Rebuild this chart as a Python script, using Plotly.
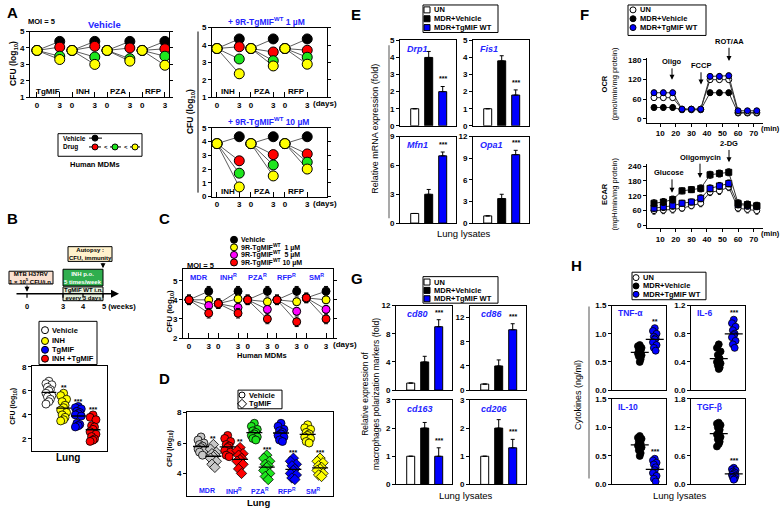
import plotly.graph_objects as go
import numpy as np

W, H = 780, 513
FONT = "Liberation Sans"
BLUE = "#0000ff"
TBLUE = "#2424ff"
RED = "#ff0000"
GREEN = "#1ee61e"
YELLOW = "#ffff00"
MAG = "#ff00ff"
GREY = "#c8c8c8"

# ======================= DATA =======================
# Panel A (Human MDMs, CFU log10, day 0 -> day 3)
A_veh_groups = ["TgMIF", "INH", "PZA", "RFP"]
A_veh_day0 = [3.85, 3.85, 3.85, 3.85]
A_veh_vehicle = [4.4, 4.4, 4.4, 4.4]
A_veh_low = [4.05, 4.1, 4.0, 3.95]
A_veh_mid = [3.5, 3.45, 3.35, 3.5]
A_veh_high = [3.3, 3.0, 3.2, 2.95]
A_veh_err = [0.15, 0.15, 0.15, 0.2]

A_1uM_groups = ["INH", "PZA", "RFP"]
A_1uM_day0 = [3.8, 3.8, 3.8]
A_1uM_vehicle = [4.35, 4.35, 4.35]
A_1uM_low = [3.9, 3.6, 3.7]
A_1uM_mid = [3.2, 3.1, 3.3]
A_1uM_high = [2.35, 2.8, 2.9]
A_1uM_err = [0.15, 0.2, 0.2, 0.25]

A_10uM_groups = ["INH", "PZA", "RFP"]
A_10uM_day0 = [3.85, 3.85, 3.85]
A_10uM_vehicle = [4.35, 4.35, 4.35]
A_10uM_low = [2.6, 3.05, 3.1]
A_10uM_mid = [1.7, 2.3, 2.5]
A_10uM_high = [0.7, 1.5, 2.0]
A_10uM_err = [0.2, 0.3, 0.3, 0.3]

# Panel B (lung CFU)
B_groups = ["Vehicle", "INH", "TgMIF", "INH +TgMIF"]
B_vehicle = [6.8, 6.6, 6.5, 6.3, 6.1, 6.0, 5.8, 5.6, 5.5, 5.3, 5.1, 4.9]
B_inh = [5.8, 5.6, 5.3, 5.1, 4.8, 4.6, 4.4, 4.2, 4.0, 3.8, 3.6, 3.5]
B_tgmif = [4.7, 4.6, 4.5, 4.3, 4.2, 4.1, 4.0, 3.9, 3.3, 3.2, 3.1, 3.0]
B_combo = [4.0, 3.8, 3.6, 3.1, 3.0, 2.8, 2.6, 2.4, 2.2, 2.0, 1.9, 1.8]
B_stars = ["", "**", "***", "***"]
B_weeks = ["0", "3", "4", "5 (weeks)"]

# Panel C (resistant strains, Human MDMs)
C_groups = ["MDR", "INH<sup>R</sup>", "PZA<sup>R</sup>", "RFP<sup>R</sup>", "SM<sup>R</sup>"]
C_day0 = [4.0, 3.8, 4.0, 4.0, 4.1]
C_vehicle = [4.45, 4.45, 4.45, 4.45, 4.45]
C_1uM = [4.0, 4.05, 3.9, 3.9, 4.0]
C_5uM = [3.7, 3.6, 3.5, 3.4, 3.5]
C_10uM = [3.3, 3.3, 3.0, 2.85, 3.0]
C_err = [0.25, 0.2, 0.2, 0.25]

# Panel D (lung CFU, resistant strains)
D_groups = ["MDR", "INH<sup>R</sup>", "PZA<sup>R</sup>", "RFP<sup>R</sup>", "SM<sup>R</sup>"]
D_vehicle = [
    [6.4, 6.2, 6.0, 5.9, 5.8, 5.7, 5.6, 5.5, 5.4, 5.2],
    [6.5, 6.3, 6.1, 5.9, 5.8, 5.7, 5.5, 5.4, 5.2, 5.1],
    [7.3, 7.1, 6.9, 6.8, 6.7, 6.6, 6.5, 6.4, 6.3, 6.2],
    [7.3, 7.1, 6.9, 6.8, 6.7, 6.6, 6.5, 6.4, 6.2, 6.1],
    [7.2, 7.0, 6.9, 6.7, 6.6, 6.5, 6.4, 6.3, 6.1, 6.0],
]
D_tgmif = [
    [5.9, 5.6, 5.4, 5.3, 5.2, 5.1, 5.0, 4.8, 4.6, 4.4],
    [5.7, 5.5, 5.3, 5.2, 5.0, 4.9, 4.8, 4.6, 4.3, 4.0],
    [5.2, 5.0, 4.8, 4.6, 4.5, 4.4, 4.2, 4.0, 3.8, 3.6],
    [5.0, 4.8, 4.6, 4.5, 4.3, 4.2, 4.0, 3.9, 3.7, 3.6],
    [5.0, 4.8, 4.7, 4.5, 4.4, 4.3, 4.2, 4.0, 3.9, 3.8],
]
D_stars = ["**", "**", "***", "***", "***"]

# Panel E (mRNA fold)
E_genes = ["Drp1", "Fis1", "Mfn1", "Opa1"]
E_un = [1, 1, 1, 1]
E_veh = [4.0, 3.8, 3.0, 3.4]
E_veh_err = [0.35, 0.3, 0.5, 0.6]
E_tg = [2.0, 1.8, 7.0, 9.5]
E_tg_err = [0.3, 0.3, 0.4, 0.6]
E_ymax = [5, 5, 9, 12]
E_dtick = [1, 1, 3, 3]

# Panel F (Seahorse)
F_time = [6, 12, 18, 24, 30, 36, 42, 48, 54, 60, 66, 72]
OCR_un = [65, 65, 65, 30, 30, 30, 120, 120, 120, 20, 20, 20]
OCR_veh = [35, 35, 35, 28, 28, 28, 80, 80, 80, 18, 18, 18]
OCR_tg = [80, 80, 80, 30, 30, 30, 130, 130, 132, 25, 25, 25]
OCR_err = [8, 8, 8, 6, 6, 6, 8, 8, 8, 6, 6, 6]
ECAR_un = [60, 62, 65, 70, 80, 90, 135, 140, 155, 70, 65, 60]
ECAR_veh = [90, 95, 105, 140, 145, 150, 205, 210, 215, 90, 85, 80]
ECAR_tg = [70, 75, 80, 90, 95, 110, 150, 160, 170, 85, 80, 78]
ECAR_err = [14, 14, 14, 12, 12, 14, 14, 14, 14, 14, 14, 14]

# Panel G (polarization markers)
G_genes = ["cd80", "cd86", "cd163", "cd206"]
G_un = [1, 1, 1, 1]
G_veh = [4.0, 4.0, 2.0, 2.0]
G_veh_err = [0.8, 1.0, 0.2, 0.3]
G_tg = [9.0, 10.0, 1.0, 1.3]
G_tg_err = [1.0, 1.0, 0.3, 0.3]
G_ymax = [12, 14, 3, 3]
G_dtick = [4, 4, 1, 1]

# Panel H (cytokines ng/ml)
H_names = ["TNF-α", "IL-6", "IL-10", "TGF-β"]
H_veh = [
    [0.8, 0.78, 0.75, 0.72, 0.7, 0.68, 0.65, 0.62, 0.6, 0.55, 0.5],
    [0.65, 0.6, 0.55, 0.5, 0.45, 0.42, 0.4, 0.38, 0.35, 0.32, 0.3],
    [0.85, 0.82, 0.8, 0.75, 0.72, 0.7, 0.68, 0.65, 0.6, 0.55, 0.5],
    [1.3, 1.28, 1.25, 1.2, 1.15, 1.1, 1.05, 1.0, 0.95, 0.9, 0.85, 0.8],
]
H_tg = [
    [1.1, 1.05, 1.0, 0.95, 0.92, 0.9, 0.85, 0.8, 0.75, 0.7],
    [1.0, 0.95, 0.9, 0.85, 0.8, 0.78, 0.75, 0.7, 0.65, 0.6],
    [0.45, 0.42, 0.38, 0.35, 0.3, 0.25, 0.2, 0.15, 0.1, 0.05],
    [0.35, 0.32, 0.3, 0.27, 0.25, 0.22, 0.2, 0.18, 0.15, 0.12, 0.1],
]
H_ymax = [1.5, 1.2, 1.5, 1.8]
H_dtick = [0.5, 0.4, 0.5, 0.6]
H_stars = ["**", "***", "***", "***"]

# ======================= HELPERS =======================
fig = go.Figure()
LAY = {}
cnt = [0]
anns = []
shapes = []


def axes(box, xr, yr, xextra=None, yextra=None, mirror=True):
    cnt[0] += 1
    n = cnt[0]
    s = "" if n == 1 else str(n)
    x0, x1, y0, y1 = box
    base = dict(showgrid=False, zeroline=False, showline=True, linecolor="black",
                linewidth=1, mirror=mirror, ticks="outside", ticklen=3, tickwidth=1,
                tickcolor="black", fixedrange=True,
                tickfont=dict(family=FONT, size=8, color="black", weight="bold"))
    xa = dict(base, domain=[x0 / W, x1 / W], range=xr, anchor="y" + s)
    ya = dict(base, domain=[1 - y1 / H, 1 - y0 / H], range=yr, anchor="x" + s)
    if xextra:
        xa.update(xextra)
    if yextra:
        ya.update(yextra)
    LAY["xaxis" + s] = xa
    LAY["yaxis" + s] = ya
    return "x" + s, "y" + s


OX, OY = axes((0, W, 0, H), [0, W], [H, 0],
              xextra=dict(visible=False), yextra=dict(visible=False))


def text(x, y, t, size=9, color="black", xanchor="center", yanchor="middle",
         angle=0, bold=True, xref=None, yref=None):
    anns.append(dict(x=x, y=y, xref=xref or OX, yref=yref or OY,
                     text=("<b>%s</b>" % t) if bold else t, showarrow=False,
                     font=dict(family=FONT, size=size, color=color),
                     xanchor=xanchor, yanchor=yanchor, textangle=angle))


def rect(x0, y0, x1, y1, fill="rgba(0,0,0,0)", color="black", width=1):
    shapes.append(dict(type="rect", xref=OX, yref=OY, x0=x0, y0=y0, x1=x1, y1=y1,
                       fillcolor=fill, line=dict(color=color, width=width), layer="above"))


def seg(x0, y0, x1, y1, color="black", width=1, xref=None, yref=None):
    shapes.append(dict(type="line", xref=xref or OX, yref=yref or OY, x0=x0, y0=y0,
                       x1=x1, y1=y1, line=dict(color=color, width=width)))


def arrow(x0, y0, x1, y1, width=1):
    anns.append(dict(x=x1, y=y1, ax=x0, ay=y0, xref=OX, yref=OY, axref=OX, ayref=OY,
                     showarrow=True, arrowhead=2, arrowsize=1, arrowwidth=width,
                     arrowcolor="black", text=""))


def leg_marker(x, y, color, symbol="circle", size=7, line_from=None):
    if line_from:
        fig.add_trace(go.Scatter(x=list(line_from), y=[y, y], mode="lines",
                                 line=dict(color="black", width=1),
                                 xaxis=OX, yaxis=OY, hoverinfo="skip"))
    fig.add_trace(go.Scatter(x=[x], y=[y], mode="markers",
                             marker=dict(size=size, color=color, symbol=symbol,
                                         line=dict(color="black", width=1)),
                             xaxis=OX, yaxis=OY, hoverinfo="skip"))


def jitter(center, vals, spread):
    order = np.argsort(vals)[::-1]
    pattern = [0, -1, 1, -0.5, 0.5]
    xs = np.empty(len(vals))
    for rank, idx in enumerate(order):
        xs[idx] = center + pattern[rank % 5] * spread
    return xs


def cloud(xa, ya, center, vals, color, symbol="circle", size=8, spread=0.2, half=0.45):
    xs = jitter(center, vals, spread)
    fig.add_trace(go.Scatter(x=xs, y=vals, mode="markers",
                             marker=dict(size=size, color=color, symbol=symbol,
                                         line=dict(color="black", width=0.8)),
                             xaxis=xa, yaxis=ya, hoverinfo="skip"))
    m = float(np.mean(vals))
    seg(center - half, m, center + half, m, "black", 1.3, xref=xa, yref=ya)


def cfu_panel(xa, ya, spacing, day0, series, colors, errs, msize):
    ng = len(day0)
    lx, ly = [], []
    for g in range(ng):
        for s in series:
            lx += [g * spacing, g * spacing + 3, None]
            ly += [day0[g], s[g], None]
    fig.add_trace(go.Scatter(x=lx, y=ly, mode="lines", line=dict(color="#333", width=0.8),
                             xaxis=xa, yaxis=ya, hoverinfo="skip"))
    for s, c, e in zip(series, colors, errs):
        xs, ys = [], []
        for g in range(ng):
            xs += [g * spacing, g * spacing + 3]
            ys += [day0[g], s[g]]
        fig.add_trace(go.Scatter(x=xs, y=ys, mode="markers",
                                 marker=dict(size=msize, color=c, line=dict(color="black", width=1)),
                                 error_y=dict(type="data", array=[e] * len(xs), color="black",
                                              thickness=1, width=2),
                                 xaxis=xa, yaxis=ya, hoverinfo="skip"))


def day_ticks(ng, spacing):
    tv, tt = [], []
    for g in range(ng):
        tv += [g * spacing, g * spacing + 3]
        tt += ["0", "3"]
    return dict(tickvals=tv, ticktext=tt, ticks="inside", ticklen=5, mirror=True)


def bars(xa, ya, un, veh, vehe, tg, tge):
    fig.add_trace(go.Bar(x=[0, 1, 2], y=[un, veh, tg], width=0.57,
                         marker=dict(color=["white", "black", BLUE],
                                     line=dict(color="black", width=1)),
                         error_y=dict(type="data", symmetric=False, array=[0, vehe, tge],
                                      arrayminus=[0, 0, 0], color="black", thickness=1, width=2),
                         xaxis=xa, yaxis=ya, hoverinfo="skip"))


NOX = dict(showticklabels=False, ticks="")

# ======================= PANEL A =======================
text(5, 9, "A", 15, xanchor="left")
text(26, 18, "MOI = 5", 7.5, xanchor="left")
text(104, 21, "Vehicle", 9.5, TBLUE)
sp = 4.62
xa, ya = axes((30, 169, 28, 95), [-0.92, 17.4], [1, 5],
              xextra=day_ticks(4, sp), yextra=dict(dtick=1, mirror="ticks"))
cfu_panel(xa, ya, sp, A_veh_day0, [A_veh_vehicle, A_veh_low, A_veh_mid, A_veh_high],
          ["black", RED, GREEN, YELLOW], A_veh_err, 10)
for g, name in enumerate(A_veh_groups):
    text(g * sp + 1.5, 1.38, name, 8, xref=xa, yref=ya)
text(14, 61, "CFU (log<sub>10</sub>)", 8.5, angle=-90)

sp = 4.57
text(266, 18, "+ 9R-TgMIF<sup>WT</sup> 1 µM", 8.5, TBLUE)
xa, ya = axes((212, 327, 24, 95), [-0.67, 14.8], [1, 5],
              xextra=day_ticks(3, sp), yextra=dict(dtick=1, mirror="ticks"))
cfu_panel(xa, ya, sp, A_1uM_day0, [A_1uM_vehicle, A_1uM_low, A_1uM_mid, A_1uM_high],
          ["black", RED, GREEN, YELLOW], A_1uM_err, 10)
for g, name in enumerate(A_1uM_groups):
    text(g * sp + 1.5, 1.35, name, 8, xref=xa, yref=ya)
text(311, 101, "(days)", 8, xanchor="left")

text(268, 120, "+ 9R-TgMIF<sup>WT</sup> 10 µM", 8.5, TBLUE)
xa, ya = axes((212, 327, 126, 196), [-0.67, 14.8], [0, 5],
              xextra=day_ticks(3, sp), yextra=dict(dtick=1, mirror="ticks"))
cfu_panel(xa, ya, sp, A_10uM_day0, [A_10uM_vehicle, A_10uM_low, A_10uM_mid, A_10uM_high],
          ["black", RED, GREEN, YELLOW], A_10uM_err, 10)
for g, name in enumerate(A_10uM_groups):
    text(g * sp + 1.5, 0.38, name, 8, xref=xa, yref=ya)
text(311, 203, "(days)", 8, xanchor="left")
text(190, 110, "CFU (log<sub>10</sub>)", 8.5, angle=-90)
seg(198, 28, 198, 192, "black", 1)

# A legend
rect(58, 132, 142, 155)
text(61, 136.5, "Vehicle", 6.5, xanchor="left")
text(61, 145.5, "Drug", 6.5, xanchor="left")
leg_marker(95, 136.5, "black", size=6, line_from=(89, 102))
leg_marker(95, 145.5, RED, size=6, line_from=(89, 101))
text(105.5, 145.5, "<", 6)
leg_marker(115, 145.5, GREEN, size=6, line_from=(110, 121))
text(126, 145.5, "<", 6)
leg_marker(135, 145.5, YELLOW, size=6, line_from=(130, 140))
text(95, 163, "Human MDMs", 7.5)

# ======================= PANEL B =======================
text(5, 218, "B", 15, xanchor="left")
rect(68, 247, 112, 262, fill="#fff2cc")
text(90, 254.5, "Autopsy :<br>CFU, immunity", 6)
arrow(103, 262, 103, 269)
rect(9, 272, 53, 285, fill="#fbe0d0")
text(31, 278.5, "MTB H37RV<br>1 × 10<sup>5</sup> CFU/i.n.", 6)
arrow(27, 285, 27, 293)
rect(63, 270, 103, 287, fill="#2fae4e")
text(83, 278.5, "INH p.o.<br>5 times/week", 6, "white")
arrow(15, 295, 119, 295, width=1.6)
rect(63, 288, 103, 302, fill="#e4efdc")
text(83, 295, "TgMIF WT i.n.<br>every 3 days", 6)
for xw, lab in zip([27, 63, 83, 103], B_weeks):
    seg(xw, 295, xw, 299, "black", 1.2)
    if lab.startswith("5"):
        text(xw - 3, 308, lab, 7.5, xanchor="left")
    else:
        text(xw, 308, lab, 7.5)

rect(39, 323, 97, 367)
for yy, col, lab in zip([332, 343, 352, 361], ["white", YELLOW, BLUE, RED], B_groups):
    leg_marker(45, yy, col, size=7)
    text(50, yy, lab, 7.5, xanchor="left")
xa, ya = axes((32, 107, 368, 455), [-1.15, 3.95], [1, 8.1],
              xextra=NOX, yextra=dict(tickvals=[2, 4, 6, 8]))
for g, (vals, col) in enumerate(zip([B_vehicle, B_inh, B_tgmif, B_combo],
                                    ["white", YELLOW, BLUE, RED])):
    cloud(xa, ya, g, vals, col, size=8, spread=0.2, half=0.5)
    if B_stars[g]:
        text(g, max(vals) + 0.45, B_stars[g], 7, xref=xa, yref=ya)
text(13, 410, "CFU (log<sub>10</sub>)", 7, angle=-90)
text(68, 462, "Lung", 10)

# ======================= PANEL C =======================
text(157, 218, "C", 15, xanchor="left")
for yy, col, lab in zip([240, 247.7, 255.4, 263.1], ["black", YELLOW, MAG, RED],
                        ["Vehicle", "9R-TgMIF<sup>WT</sup>  1 µM",
                         "9R-TgMIF<sup>WT</sup>  5 µM", "9R-TgMIF<sup>WT</sup> 10 µM"]):
    leg_marker(234, yy, col, size=7)
    text(239, yy, lab, 7, xanchor="left")
text(185, 266, "MOI = 5", 7.5, xanchor="left")
sp = 4.46
xa, ya = axes((183, 333, 270, 340), [-0.91, 21.9], [2, 5.6],
              xextra=day_ticks(5, sp), yextra=dict(dtick=1, mirror="ticks"))
cfu_panel(xa, ya, sp, C_day0, [C_vehicle, C_1uM, C_5uM, C_10uM],
          ["black", YELLOW, MAG, RED], C_err, 8)
for g, name in enumerate(C_groups):
    text(g * sp + 1.5, 5.18, name, 7.5, TBLUE, xref=xa, yref=ya)
text(331, 347, "(days)", 8, xanchor="left")
text(170, 313, "CFU (log<sub>10</sub>)", 8, angle=-90)
text(262, 358, "Human MDMs", 7.5)

# ======================= PANEL D =======================
text(157, 381, "D", 15, xanchor="left")
rect(238, 393, 282, 412)
leg_marker(242, 398, "white", size=6)
text(247, 398, "Vehicle", 7.5, xanchor="left")
leg_marker(242, 407, "white", symbol="diamond", size=7)
text(247, 407, "TgMIF", 7.5, xanchor="left")
xa, ya = axes((187, 333, 415, 501), [-1.05, 9.9], [2.5, 8.06],
              xextra=NOX, yextra=dict(tickvals=[4, 6, 8]))
D_colors = [GREY, RED, GREEN, BLUE, YELLOW]
for g in range(len(D_groups)):
    cloud(xa, ya, 2 * g, D_vehicle[g], D_colors[g], size=8, spread=0.22, half=0.6)
    cloud(xa, ya, 2 * g + 0.93, D_tgmif[g], D_colors[g], symbol="diamond", size=8,
          spread=0.22, half=0.6)
    text(2 * g + 0.93, max(D_tgmif[g]) + 0.4, D_stars[g], 7, xref=xa, yref=ya)
    text(2 * g + 0.46, 2.85, D_groups[g], 7, TBLUE, xref=xa, yref=ya)
text(170, 453, "CFU (log<sub>10</sub>)", 7, angle=-90)
text(258, 507, "Lung", 9.5)

# ======================= PANEL E =======================
text(349, 11, "E", 15, xanchor="left")
rect(423, 1, 498, 29)
for yy, col, lab in zip([6, 15, 24], ["white", "black", BLUE],
                        ["UN", "MDR+Vehicle", "MDR+TgMIF WT"]):
    leg_marker(427, yy, col, symbol="square", size=6)
    text(432, yy, lab, 7.5, xanchor="left")
E_boxes = [(400, 456, 37, 124), (473, 529, 37, 124), (400, 456, 135, 223), (473, 529, 135, 223)]
for i, b in enumerate(E_boxes):
    xa, ya = axes(b, [-1.05, 2.95], [0, E_ymax[i]], xextra=NOX,
                  yextra=dict(dtick=E_dtick[i]))
    bars(xa, ya, E_un[i], E_veh[i], E_veh_err[i], E_tg[i], E_tg_err[i])
    text(2, E_tg[i] + E_tg_err[i] + 0.09 * E_ymax[i], "***", 7, xref=xa, yref=ya)
    text(b[0] + 5, b[2] + 9, "<i>%s</i>" % E_genes[i], 9, TBLUE, xanchor="left")
text(375, 127, "Relative mRNA expression (fold)", 9, angle=-90, bold=False)
seg(389, 42, 389, 218, "#8c8c8c", 1.5)
text(464, 234, "Lung lysates", 9.5, bold=False)

# ======================= PANEL F =======================
text(578, 11, "F", 15, xanchor="left")
rect(628, 1, 706, 32)
for yy, col, lab in zip([6, 15, 24], ["white", "black", BLUE],
                        ["UN", "MDR+Vehicle", "MDR+TgMIF WT"]):
    leg_marker(633, yy, col, size=6)
    text(638, yy, lab, 7.5, xanchor="left")

FX = dict(tickvals=[10, 20, 30, 40, 50, 60, 70], mirror=False)
xa, ya = axes((647, 763, 55, 121), [1.5, 76], [-12, 186], xextra=FX,
              yextra=dict(tickvals=[0, 60, 120, 180], mirror=False), mirror=False)
for vals, col, sym in [(OCR_veh, "black", "circle"), (OCR_un, "white", "circle"),
                       (OCR_tg, BLUE, "circle")]:
    fig.add_trace(go.Scatter(x=F_time, y=vals, mode="lines+markers",
                             line=dict(color="#333", width=1),
                             marker=dict(size=6, color=col, symbol=sym,
                                         line=dict(color="black", width=1)),
                             error_y=dict(type="data", array=OCR_err, color="black",
                                          thickness=1, width=1.5),
                             xaxis=xa, yaxis=ya, hoverinfo="skip"))
text(759, 127, "(min)", 7.5, xanchor="left")
text(610, 82, "<b>OCR</b><br>(pmol/min/mg protein)", 7.5, angle=-90, bold=False)
text(672, 59, "Oligo", 7.5)
arrow(672, 64, 672, 77)
text(701, 63, "FCCP", 7.5)
arrow(701, 68, 701, 82)
text(729, 38, "ROT/AA", 7.5)
arrow(729, 43, 729, 58)

xa, ya = axes((647, 763, 163, 228), [1.5, 76], [-10, 248], xextra=FX,
              yextra=dict(tickvals=[0, 60, 120, 180, 240], mirror=False), mirror=False)
for vals, col, sym in [(ECAR_un, "white", "circle"), (ECAR_tg, BLUE, "square"),
                       (ECAR_veh, "black", "square")]:
    fig.add_trace(go.Scatter(x=F_time, y=vals, mode="lines+markers",
                             line=dict(color="#333", width=1),
                             marker=dict(size=6, color=col, symbol=sym,
                                         line=dict(color="black", width=1)),
                             error_y=dict(type="data", array=ECAR_err, color="black",
                                          thickness=1, width=1.5),
                             xaxis=xa, yaxis=ya, hoverinfo="skip"))
text(759, 234, "(min)", 7.5, xanchor="left")
text(610, 194, "<b>ECAR</b><br>(mpH/min/mg protein)", 7.5, angle=-90, bold=False)
text(729, 142, "2-DG", 7.5)
arrow(729, 147, 729, 161)
text(700, 156, "Oligomycin", 7.5)
arrow(700, 161, 700, 177)
text(669, 172, "Glucose", 7.5)
arrow(672, 177, 672, 192)

# ======================= PANEL G =======================
text(349, 279, "G", 15, xanchor="left")
rect(423, 277.5, 498, 304.5)
for yy, col, lab in zip([283, 291.5, 300], ["white", "black", BLUE],
                        ["UN", "MDR+Vehicle", "MDR+TgMIF WT"]):
    leg_marker(427, yy, col, symbol="square", size=6)
    text(432, yy, lab, 7.5, xanchor="left")
G_boxes = [(396, 452, 307, 393), (470, 526, 307, 393), (396, 452, 403, 489), (470, 526, 403, 489)]
for i, b in enumerate(G_boxes):
    xa, ya = axes(b, [-1.05, 2.95], [0, G_ymax[i]], xextra=NOX,
                  yextra=dict(dtick=G_dtick[i]))
    bars(xa, ya, G_un[i], G_veh[i], G_veh_err[i], G_tg[i], G_tg_err[i])
    text(2, G_tg[i] + G_tg_err[i] + 0.09 * G_ymax[i], "***", 7, xref=xa, yref=ya)
    text(b[0] + 9, b[2] + 9, "<i>%s</i>" % G_genes[i], 9, TBLUE, xanchor="left")
text(370, 397, "Relative expression of<br>macrophages polarization markers (fold)", 8.5,
     angle=-90, bold=False)
text(466, 500, "Lung lysates", 9.5, bold=False)

# ======================= PANEL H =======================
text(569, 266, "H", 15, xanchor="left")
rect(632, 273, 706, 301)
for yy, col, lab in zip([278.5, 287, 295.5], ["white", "black", BLUE],
                        ["UN", "MDR+Vehicle", "MDR+TgMIF WT"]):
    leg_marker(636, yy, col, size=6)
    text(641, yy, lab, 7.5, xanchor="left")
H_boxes = [(612, 666, 307, 393), (691, 745, 307, 393), (612, 666, 402, 489), (691, 745, 402, 489)]
for i, b in enumerate(H_boxes):
    xa, ya = axes(b, [-1.85, 1.75], [0, H_ymax[i]], xextra=NOX,
                  yextra=dict(dtick=H_dtick[i], tickformat=".1f"))
    cloud(xa, ya, 0, H_veh[i], "black", size=7, spread=0.12, half=0.6)
    cloud(xa, ya, 1, H_tg[i], BLUE, size=7, spread=0.12, half=0.6)
    text(1, max(H_tg[i]) + 0.08 * H_ymax[i], H_stars[i], 7, xref=xa, yref=ya)
    text(b[0] + 4, b[2] + 8, H_names[i], 8.5, TBLUE, xanchor="left")
text(578, 398, "Cytokines (ng/ml)", 9, angle=-90, bold=False)
seg(589, 308, 589, 483, "#8c8c8c", 1.5)
text(680, 500, "Lung lysates", 9.5, bold=False)

# ======================= LAYOUT =======================
fig.update_layout(width=W, height=H, margin=dict(l=0, r=0, t=0, b=0),
                  paper_bgcolor="white", plot_bgcolor="rgba(0,0,0,0)",
                  showlegend=False, annotations=anns, shapes=shapes,
                  font=dict(family=FONT, color="black"), **LAY)
fig.write_html("out.html", config={"displayModeBar": False, "staticPlot": True},
               post_script="document.body.style.margin='0px';document.body.style.padding='0px';")
